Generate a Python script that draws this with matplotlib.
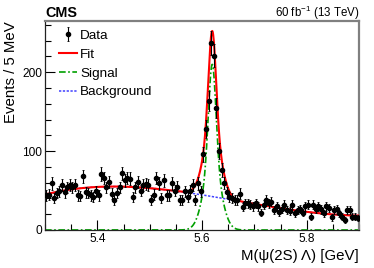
import numpy as np
import matplotlib
matplotlib.use('Agg')
import matplotlib.pyplot as plt

plt.rcParams['font.family'] = ['Liberation Sans', 'DejaVu Sans']
plt.rcParams['mathtext.default'] = 'regular'

# binning: 5 MeV bins from 5.30 to 5.90 GeV
x_lo, x_hi, bin_w = 5.30, 5.90, 0.005

# events per bin
counts = [44, 45, 59, 41, 47, 49, 57, 48, 54, 57, 54, 57, 44, 43, 68, 48,
          47, 44, 42, 49, 44, 71, 66, 54, 61, 46, 38, 47, 54, 72, 63, 66,
          65, 42, 54, 61, 50, 57, 58, 57, 38, 45, 66, 59, 40, 63, 44, 44,
          59, 50, 55, 38, 38, 49, 42, 50, 57, 38, 59, 49, 96, 128, 164, 237,
          221, 155, 100, 76, 60, 48, 42, 40, 38, 38, 46, 29, 34, 34, 32, 30,
          34, 30, 22, 32, 38, 34, 36, 25, 30, 23, 27, 32, 25, 24, 32, 21,
          25, 27, 22, 30, 32, 17, 32, 27, 30, 26, 21, 30, 28, 16, 25, 26,
          21, 17, 13, 25, 25, 17, 17, 15]

# fit model parameters (estimated)
bkg_x = [5.30, 5.45, 5.60, 5.70, 5.80, 5.90]
bkg_y = [45, 55, 45, 32, 24, 18]
sig_mean = 5.6195
sig_amp = 210.0
sig_s1, sig_s2, sig_frac = 0.007, 0.016, 0.6

centers = x_lo + bin_w * (np.arange(len(counts)) + 0.5)
counts = np.array(counts, dtype=float)
errs = np.sqrt(counts)

bkg_poly = np.polyfit(bkg_x, bkg_y, 3)
xf = np.linspace(x_lo, x_hi, 1000)
bkg = np.polyval(bkg_poly, xf)
d = xf - sig_mean
sig = sig_amp * (sig_frac * np.exp(-0.5 * (d / sig_s1) ** 2)
                 + (1 - sig_frac) * np.exp(-0.5 * (d / sig_s2) ** 2))
fit = bkg + sig

fig = plt.figure(figsize=(3.74, 2.68), dpi=100)
ax = fig.add_axes([0.1203, 0.1418, 0.8397, 0.7798])

h_data = ax.errorbar(centers, counts, yerr=errs, fmt='o', color='black',
                     ms=3, elinewidth=0.8, capsize=1.0, capthick=0.6,
                     zorder=5)
h_fit, = ax.plot(xf, fit, color='#ff0000', lw=1.5, zorder=3)
h_sig, = ax.plot(xf, sig, color='#00a000', lw=1.2,
                 ls=(0, (4, 1.5, 1, 1.5)), zorder=2)
h_bkg, = ax.plot(xf, bkg, color='#4040ff', lw=1.1, ls=(0, (1.5, 1)),
                 zorder=2)

ax.set_xlim(x_lo, x_hi)
ax.set_ylim(0, 265)
ax.set_xticks([5.4, 5.6, 5.8])
ax.set_xticks(np.arange(5.30, 5.90, 0.05), minor=True)
ax.set_yticks([0, 100, 200])
ax.set_yticks(np.arange(0, 265, 20), minor=True)
ax.tick_params(which='both', direction='in', labelsize=8.6, top=False,
               right=False, pad=2)
ax.tick_params(which='major', length=7, width=0.8)
ax.tick_params(which='minor', length=4, width=0.8)

for s in ['left', 'bottom']:
    ax.spines[s].set_color('#222222')
    ax.spines[s].set_linewidth(0.9)
for s in ['top', 'right']:
    ax.spines[s].set_color('#808080')
    ax.spines[s].set_linewidth(1.6)

ax.set_ylabel('Events / 5 MeV', fontsize=10.8, loc='top', labelpad=3)
ax.set_xlabel('M(ψ(2S) Λ) [GeV]', fontsize=10.8, loc='right', labelpad=3)

ax.legend([h_data, h_fit, h_sig, h_bkg],
          ['Data', 'Fit', 'Signal', 'Background'],
          loc='upper left', bbox_to_anchor=(0.044, 0.960), frameon=False,
          fontsize=9.7, handlelength=1.35, labelspacing=0.48,
          handletextpad=0.25, borderaxespad=0.0, borderpad=0.0)

fig.text(0.1203, 0.952, 'CMS', fontsize=10.4, fontweight='bold',
         ha='left', va='center')
fig.text(0.96, 0.952, '60 fb$^{-1}$ (13 TeV)', fontsize=8.3,
         ha='right', va='center')

fig.savefig('out.png', dpi=100)
